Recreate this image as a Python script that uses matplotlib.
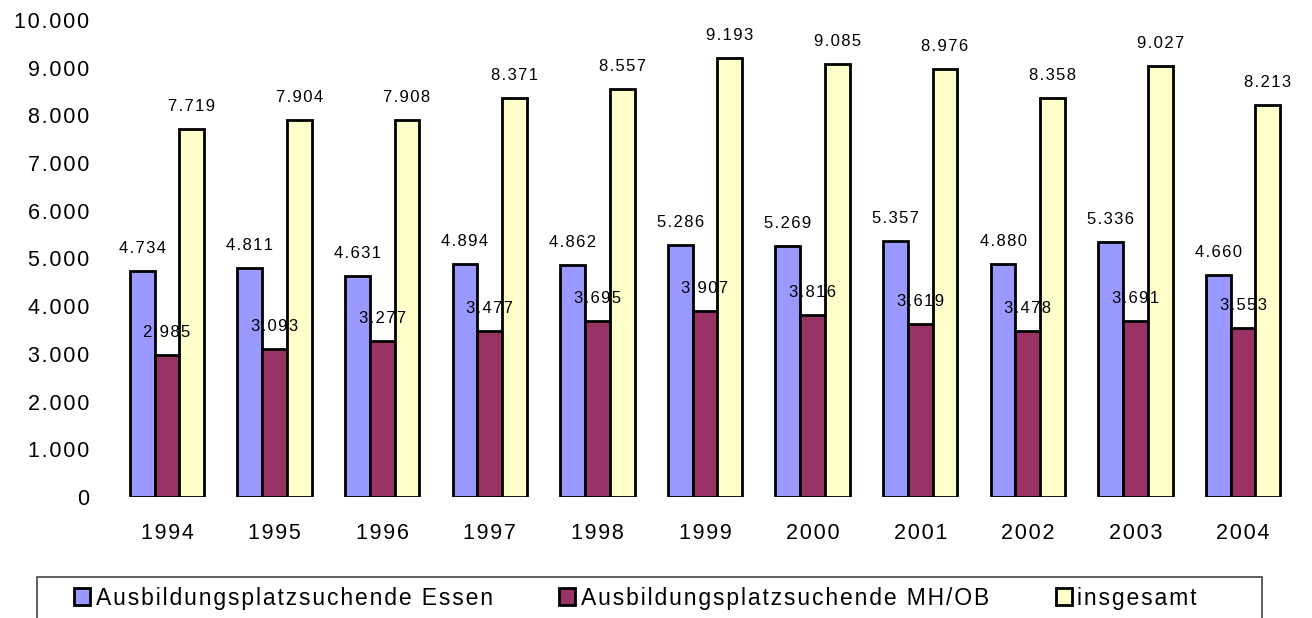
import matplotlib.pyplot as plt
from matplotlib.patches import Rectangle
import numpy as np

years = ['1994', '1995', '1996', '1997', '1998', '1999', '2000', '2001', '2002', '2003', '2004']
essen = [4734, 4811, 4631, 4894, 4862, 5286, 5269, 5357, 4880, 5336, 4660]
mhob = [2985, 3093, 3277, 3477, 3695, 3907, 3816, 3619, 3478, 3691, 3553]
gesamt = [7719, 7904, 7908, 8371, 8557, 9193, 9085, 8976, 8358, 9027, 8213]
labels = ['Ausbildungsplatzsuchende Essen', 'Ausbildungsplatzsuchende MH/OB', 'insgesamt']
colors = ['#9999FF', '#993366', '#FFFFCC']

FONT = ['Liberation Sans', 'DejaVu Sans']
plt.rcParams['font.family'] = FONT
SP = '\u200a'


def spaced(s):
    # the original uses wide letter spacing
    return SP.join(s)


def fmt(v):
    s = f'{v:,}'.replace(',', '.')
    return spaced(s)


W, H = 1312, 618
fig = plt.figure(figsize=(W / 100, H / 100), dpi=100)
ax = fig.add_axes([113.2 / W, 121 / H, 1183.6 / W, 477 / H])

index = np.arange(len(years))
width = 0.23
series = [essen, mhob, gesamt]
for k, (vals, col, lab) in enumerate(zip(series, colors, labels)):
    x = index + (k - 1) * width
    ax.bar(x, vals, width, color=col, edgecolor='black', linewidth=2.0, label=spaced(lab), zorder=2)
    for xi, v in zip(x, vals):
        ax.annotate(fmt(v), (xi, v), xytext=(0, 15), textcoords='offset pixels',
                    ha='center', va='bottom', fontsize=12, color='black', zorder=3)

ax.set_xlim(-0.5, len(years) - 0.5)
ax.set_ylim(0, 10000)
ax.set_yticks(np.arange(0, 10001, 1000))
ax.set_yticklabels([fmt(v) if v else '0' for v in range(0, 10001, 1000)], fontsize=15.5)
ax.set_xticks(index)
ax.set_xticklabels([spaced(y) for y in years], fontsize=15.5)
ax.tick_params(axis='y', length=0, pad=17.5)
ax.tick_params(axis='x', length=0, pad=19)
for s in ax.spines.values():
    s.set_visible(False)

# legend box runs off the bottom of the picture
fig.patches.append(Rectangle((37 / W, -30 / H), 1225 / W, (H - 577 + 30) / H,
                             transform=fig.transFigure, facecolor='white',
                             edgecolor='#444444', linewidth=1.2, zorder=0))
leg = fig.legend(loc='center left', bbox_to_anchor=(74 / W, 1 - 598 / H),
                 ncol=3, fontsize=16.5, frameon=False,
                 handlelength=0.7, handleheight=0.7, handletextpad=0.25,
                 columnspacing=2.9, borderpad=0, borderaxespad=0)

fig.savefig('out.png', dpi=100)
